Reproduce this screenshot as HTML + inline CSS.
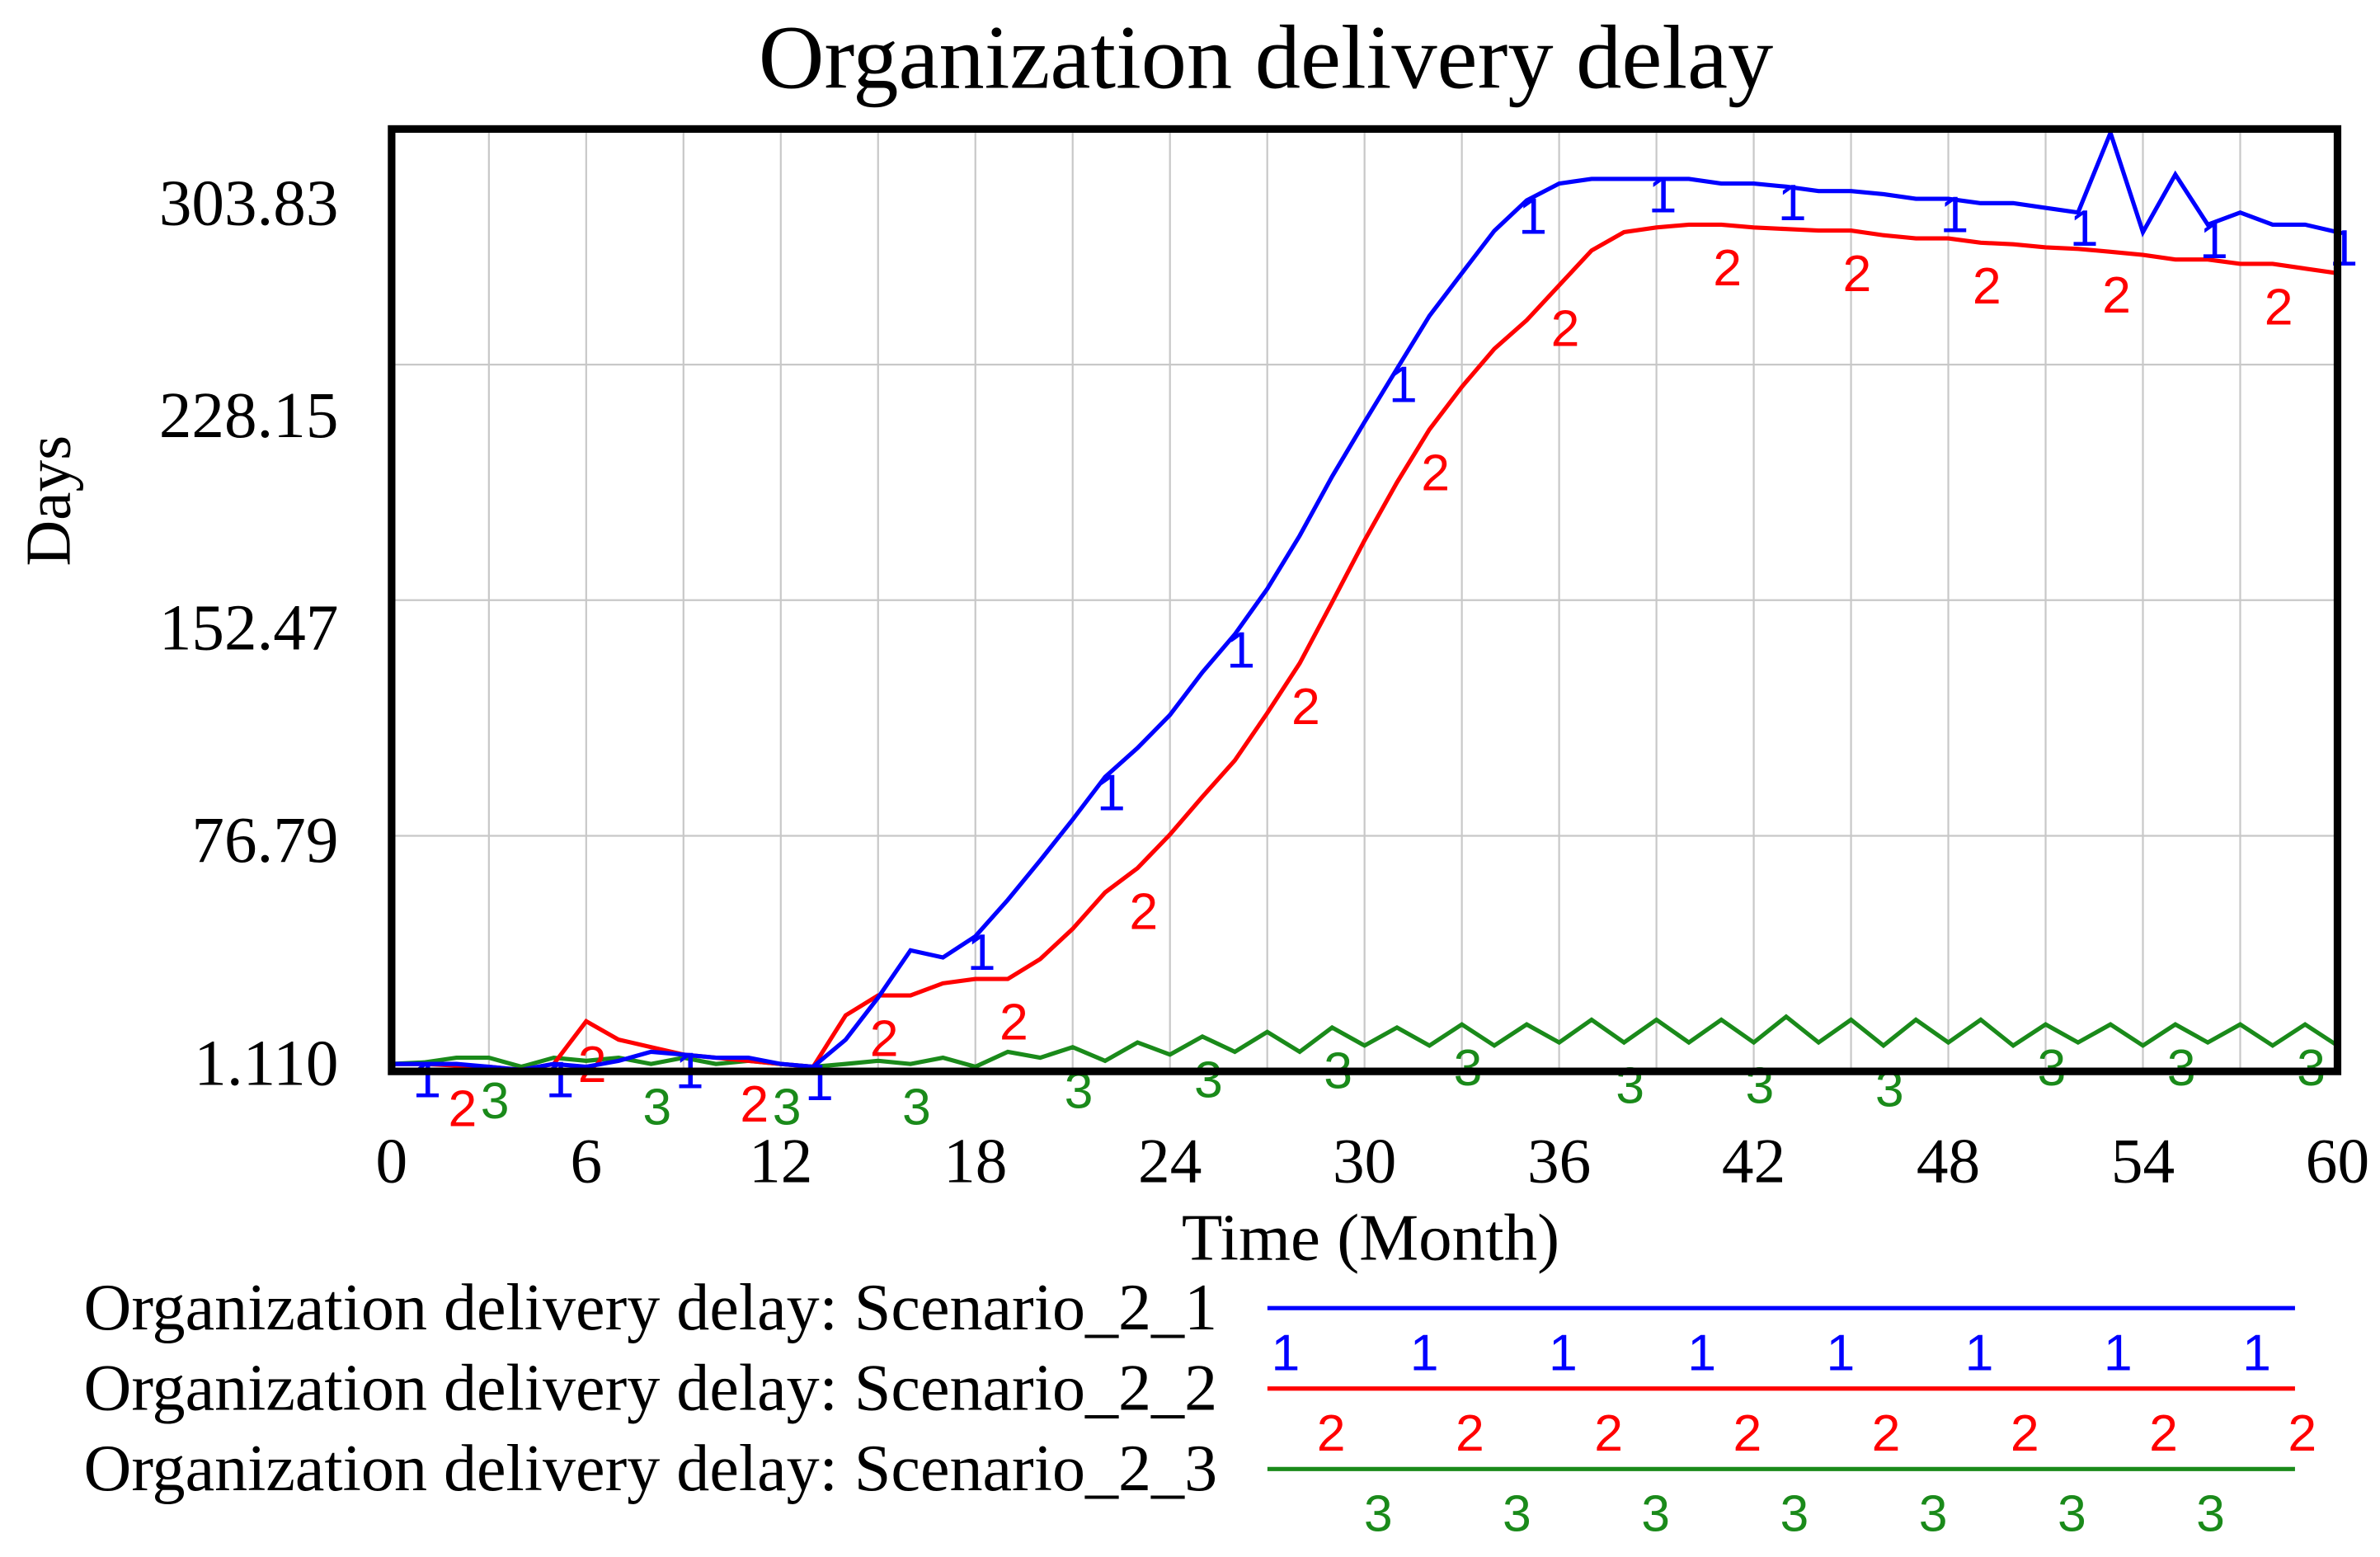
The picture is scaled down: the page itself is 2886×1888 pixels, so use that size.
<!DOCTYPE html>
<html><head><meta charset="utf-8"><style>
html,body{margin:0;padding:0;background:#fff;}
svg{display:block;}
.serif{font-family:"Liberation Serif",serif;}
.sans{font-family:"Liberation Sans",sans-serif;}
</style></head><body>
<svg id="chart" width="2886" height="1888" viewBox="0 0 1568 1026" preserveAspectRatio="none" xmlns="http://www.w3.org/2000/svg">
<text class="serif" x="834" y="58" font-size="60" text-anchor="middle">Organization delivery delay</text>
<g id="grid"></g>
<g id="series"></g>
<rect x="258" y="85" width="1282" height="621" fill="none" stroke="#000" stroke-width="5"/>
<g id="yticks"></g>
<g id="xticks"></g>
<text class="serif" font-size="42" text-anchor="middle" transform="translate(46,330) rotate(-90)">Days</text>
<text class="serif" x="903" y="830" font-size="44" text-anchor="middle">Time (Month)</text>
<g id="legend"></g>
</svg>
<script>
const months = Array.from({length:61},(_,i)=>i);
const blueValues = [3.5,3.5,3.5,2.6,1.6,3.5,2.6,4.5,7.4,6.5,5.5,5.5,3.5,2.6,11.3,24.8,40,37.7,44.5,56.2,68.9,82,95.7,105,115.6,129.3,141.5,156.1,173.2,192.2,209.7,226.8,243.8,257.5,271.1,280.9,286.3,287.8,287.8,287.8,287.8,286.3,286.3,285.3,283.9,283.9,282.9,281.4,281.4,280,280,278.5,277,302.6,270.7,289.2,273.1,277,273.1,273.1,270.7];
const redValues = [3.5,3.5,3.0,2.6,1.6,3.5,17.2,11.3,8.9,6.5,5.5,4.5,3.5,2.6,19.1,25.5,25.5,29.4,30.8,30.8,37.2,46.9,58.6,66.4,77.2,89.3,101,116.2,132.2,151.8,171.7,190.3,207.3,221,233.2,242.4,253.6,264.8,270.7,272.2,273.1,273.1,272.2,271.7,271.2,271.2,269.7,268.7,268.7,267.3,266.8,265.8,265.3,264.4,263.4,261.9,261.9,260.5,260.5,259,257.5];
const greenValues = [3.5,4,5.5,5.5,2.6,5.5,4.5,5.5,3.5,5.5,3.5,4.5,3.5,2.6,3.5,4.5,3.5,5.5,2.6,7.4,5.5,8.9,4.5,10.4,6.5,12.3,7.4,13.8,7.4,15.2,9.4,15.2,9.4,16.2,9.4,16.2,10.4,17.7,10.4,17.7,10.4,17.7,10.4,18.7,10.4,17.7,9.4,17.7,10.4,17.7,9.4,16.2,10.4,16.2,9.4,16.2,10.4,16.2,9.4,16.2,9.4];
const blueMarkers = [0.9,5,9,13,18,22,26,31,35,39,43,48,52,56,60];
const redMarkers = [2,6,11,15,19,23,28,32,36,41,45,49,53,58];
const greenMarkers = [3,8,12,16,21,25,29,33,38,42,46,51,55,59];
const yTickLabels = ["303.83","228.15","152.47","76.79","1.110"];
const xTickLabels = [0,6,12,18,24,30,36,42,48,54,60];
const legendLabels = ["Organization delivery delay: Scenario_2_1","Organization delivery delay: Scenario_2_2","Organization delivery delay: Scenario_2_3"];

const NS="http://www.w3.org/2000/svg";
const X0=258,X1=1540,YT=85,YB=706,VMIN=1.11,VMAX=303.83;
const xs=t=>X0+(t/60)*(X1-X0);
const ys=v=>YB-(v-VMIN)/(VMAX-VMIN)*(YB-YT);
function mk(tag,attrs,parent,text){const e=document.createElementNS(NS,tag);for(const k in attrs)e.setAttribute(k,attrs[k]);if(text!==undefined)e.textContent=text;parent.appendChild(e);return e;}
const grid=document.getElementById('grid');
for(let m=3;m<60;m+=3){const l=mk('line',{x1:xs(m),x2:xs(m),y1:YT,y2:YB,stroke:'#c8c8c8','stroke-width':1.2},grid);

}
for(let i=1;i<4;i++){const y=YT+i*(YB-YT)/4;const l=mk('line',{x1:X0,x2:X1,y1:y,y2:y,stroke:'#c8c8c8','stroke-width':1.2},grid);

}
const yt=document.getElementById('yticks');
const yLabelPos=[133,273,413,553,700];
yTickLabels.forEach((s,i)=>{const t=mk('text',{x:223,y:yLabelPos[i]+15,'font-size':43,'text-anchor':'end','class':'serif'},yt,s);

});
const xt=document.getElementById('xticks');
xTickLabels.forEach(v=>{const t=mk('text',{x:xs(v),y:779,'font-size':42,'text-anchor':'middle','class':'serif'},xt,String(v));

});
function interp(arr,t){const i=Math.min(59,Math.floor(t));const f=t-i;return arr[i]*(1-f)+arr[i+1]*f;}
const ser=document.getElementById('series');
function drawSeries(vals,markers,color,label,off,name){
 const p=mk('polyline',{points:vals.map((v,i)=>xs(months[i])+','+ys(v)).join(' '),fill:'none',stroke:color,'stroke-width':2.8},ser);
 
 
 markers.forEach(t=>{const y=Math.min(ys(interp(vals,t))+off,742);const m=mk('text',{x:xs(t)+4,y:y,'font-size':34,'text-anchor':'middle','class':'sans',fill:color},ser,label);
 
 });
}
drawSeries(greenValues,greenMarkers,'#1a8a1a','3',40,'scenario-2-3');
drawSeries(redValues,redMarkers,'#ff0000','2',40,'scenario-2-2');
drawSeries(blueValues,blueMarkers,'#0000ff','1',22,'scenario-2-1');
const lg=document.getElementById('legend');
const colors=['#0000ff','#ff0000','#1a8a1a'];
const lineYs=[862,915,968];
const startX=[847,877,908];
const counts=[8,8,7];
legendLabels.forEach((s,i)=>{
 const t=mk('text',{x:802,y:lineYs[i]+14,'font-size':43.5,'text-anchor':'end','class':'serif'},lg,s);
 
 
 const l=mk('line',{x1:835,x2:1512,y1:lineYs[i],y2:lineYs[i],stroke:colors[i],'stroke-width':2.8},lg);
 
 
 for(let k=0;k<counts[i];k++){const m=mk('text',{x:startX[i]+k*91.4,y:lineYs[i]+41,'font-size':34,'text-anchor':'middle','class':'sans',fill:colors[i]},lg,String(i+1));
 
 }
});
</script>
</body></html>
